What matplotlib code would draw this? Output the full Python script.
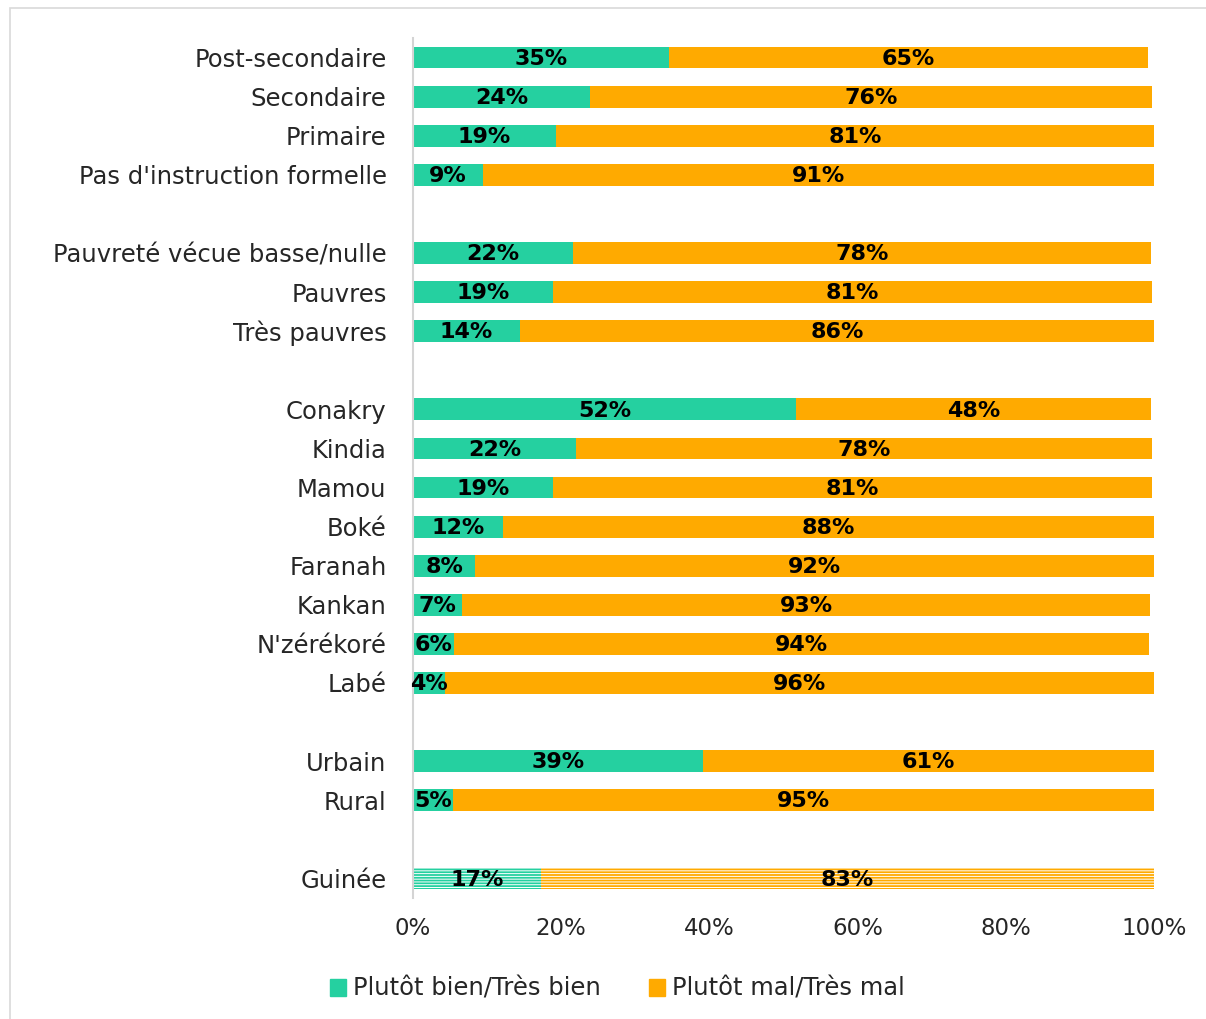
import matplotlib.pyplot as plt
from matplotlib.patches import Rectangle

# --- données ---
categories = ['Post-secondaire', 'Secondaire', 'Primaire', "Pas d'instruction formelle",
              'Pauvreté vécue basse/nulle', 'Pauvres', 'Très pauvres',
              'Conakry', 'Kindia', 'Mamou', 'Boké', 'Faranah', 'Kankan', "N'zérékoré", 'Labé',
              'Urbain', 'Rural',
              'Guinée']
# positions des lignes (avec des lignes vides entre les groupes)
slots = [0, 1, 2, 3, 5, 6, 7, 9, 10, 11, 12, 13, 14, 15, 16, 18, 19, 21]

bien = [34.6, 23.9, 19.3, 9.4, 21.6, 18.9, 14.4, 51.7, 22.0, 18.9, 12.1, 8.4, 6.6, 5.6, 4.3, 39.1, 5.4, 17.3]
mal = [64.6, 75.8, 80.7, 90.6, 78.0, 80.8, 85.6, 47.9, 77.7, 80.8, 87.9, 91.6, 92.9, 93.7, 95.7, 60.9, 94.6, 82.7]

series_labels = ['Plutôt bien/Très bien', 'Plutôt mal/Très mal']
xticks = [0, 20, 40, 60, 80, 100]

COLOR_BIEN = '#25D0A0'
COLOR_MAL = '#FFAA00'
TEXT = '#262626'

plt.rcParams['font.family'] = ['DejaVu Sans']
plt.rcParams['hatch.linewidth'] = 0.7

fig = plt.figure(figsize=(12.06, 10.19), dpi=100)
ax = fig.add_axes([413 / 1206, 1 - 898 / 1019, (1154 - 413) / 1206, (898 - 38) / 1019])

h = 0.56
for i, (s, b, m) in enumerate(zip(slots, bien, mal)):
    last = (i == len(slots) - 1)
    kw = dict(hatch='------', edgecolor='white', linewidth=0) if last else dict(linewidth=0)
    ax.barh(s, b, height=h, color=COLOR_BIEN, **kw)
    ax.barh(s, m, left=b, height=h, color=COLOR_MAL, **kw)
    ax.text(b / 2, s + 0.03, f'{round(b)}%', ha='center', va='center', fontsize=16, fontweight='bold', color='black')
    ax.text(b + m / 2, s + 0.03, f'{round(m)}%', ha='center', va='center', fontsize=16, fontweight='bold', color='black')

ax.set_ylim(21.5, -0.5)
ax.set_xlim(0, 100)
ax.set_yticks(slots)
ax.set_yticklabels(categories, fontsize=17.5, color=TEXT)
ax.set_xticks(xticks)
ax.set_xticklabels([f'{t}%' for t in xticks], fontsize=16.5, color=TEXT)
ax.tick_params(axis='y', length=0, pad=19)
ax.tick_params(axis='x', length=0, pad=14)
for side in ['top', 'right', 'bottom']:
    ax.spines[side].set_visible(False)
ax.spines['left'].set_color('#D4D4D4')
ax.spines['left'].set_linewidth(1.5)

handles = [Rectangle((0, 0), 1, 1, color=COLOR_BIEN), Rectangle((0, 0), 1, 1, color=COLOR_MAL)]
leg = fig.legend(handles, series_labels, loc='center', bbox_to_anchor=(0.512, 1 - 989 / 1019), ncol=2,
                 frameon=False, fontsize=17.5, handlelength=0.65, handleheight=0.65, handletextpad=0.3,
                 columnspacing=2.0)
for t in leg.get_texts():
    t.set_color(TEXT)

# cadre gris clair autour du graphique
fig.patches.append(Rectangle((10 / 1206, -0.01), 1.0, 1 - 8 / 1019 + 0.01, transform=fig.transFigure,
                             fill=False, edgecolor='#D9D9D9', linewidth=1.2))

fig.savefig('out.png', dpi=100)
